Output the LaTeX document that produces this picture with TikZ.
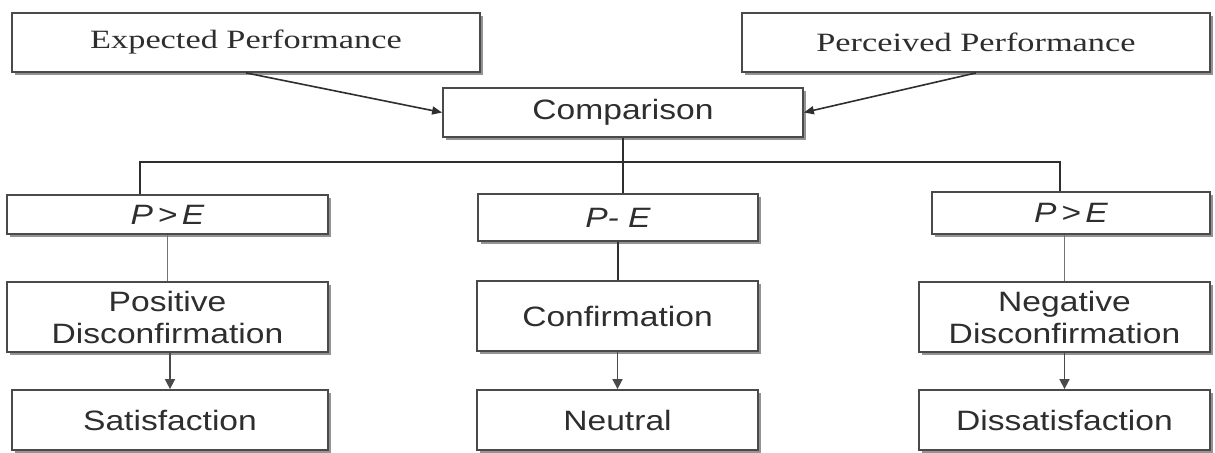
\documentclass[tikz,border=0pt]{standalone}
\usepackage{fontspec}
\usepackage{tikz}
\usetikzlibrary{shadows,arrows.meta}
\newfontfamily\boxsans[FakeStretch=1.2]{Liberation Sans}
\newfontfamily\boxserif[FakeStretch=1.3]{Liberation Serif}
\definecolor{inkgray}{HTML}{2E2E2E}
\definecolor{linegray}{HTML}{4A4A4A}

\begin{document}
\begin{tikzpicture}[x=0.5pt,y=-0.5pt,
    box/.style={draw=linegray, line width=0.9pt, fill=white, text=inkgray,
      align=center, inner sep=1pt,
      drop shadow={shadow xshift=1.5pt, shadow yshift=-1.5pt, fill=black!60, opacity=0.7}},
    serifbox/.style={box, font=\boxserif\fontsize{13.2}{15}\selectfont},
    sansbox/.style={box, font=\boxsans\fontsize{14}{16}\selectfont},
    link/.style={draw=inkgray, line width=0.8pt},
    faint/.style={draw=black!55, line width=0.8pt},
    arr/.style={draw=linegray, line width=0.8pt, -{Triangle[length=5pt,width=5pt]}}]
    \useasboundingbox [fill=white] (0,0) rectangle (1215,452);

    \node [serifbox, minimum width=234pt, minimum height=29.5pt] (expected) at (246,42.5) {Expected Performance};
    \node [serifbox, minimum width=234pt, minimum height=29.5pt] (perceived) at (976,42.5) {Perceived Performance};
    \node [sansbox, minimum width=180pt, minimum height=24.5pt] (comparison) at (623,112.5) {Comparison};

    \node [sansbox, minimum width=160.5pt, minimum height=19.5pt] (gtleft) at (167.5,214.5) {\itshape P\,>\,E};
    \node [sansbox, minimum width=140pt, minimum height=23.5pt] (equal) at (618,217.5) {\itshape P- E};
    \node [sansbox, minimum width=139pt, minimum height=21pt] (gtright) at (1071,213) {\itshape P\,>\,E};

    \node [sansbox, minimum width=160.5pt, minimum height=35pt] (posdisc) at (167.5,317) {Positive\\Disconfirmation};
    \node [sansbox, minimum width=140.5pt, minimum height=35pt] (confirm) at (617.5,316) {Confirmation};
    \node [sansbox, minimum width=145.5pt, minimum height=35pt] (negdisc) at (1064.5,317) {Negative\\Disconfirmation};

    \node [sansbox, minimum width=158pt, minimum height=30pt] (satisf) at (170,420) {Satisfaction};
    \node [sansbox, minimum width=140.5pt, minimum height=30pt] (neutral) at (617.5,420) {Neutral};
    \node [sansbox, minimum width=145.5pt, minimum height=30pt] (dissatisf) at (1064.5,420) {Dissatisfaction};

    \coordinate (leftjoin) at (140,162);
    \coordinate (rightjoin) at (1060,162);

    \draw [link, -{Triangle[length=5pt,width=4pt]}] (expected.south) -- (comparison.west);
    \draw [link, -{Triangle[length=5pt,width=4pt]}] (perceived.south) -- (comparison.east);
    \draw [link] (comparison.south) -- (comparison.south |- equal.north);
    \draw [link] (leftjoin |- gtleft.north) -- (leftjoin) -- (rightjoin) -- (rightjoin |- gtright.north);

    \draw [faint] (gtleft.south) -- (gtleft.south |- posdisc.north);
    \draw [link] (equal.south) -- (equal.south |- confirm.north);
    \draw [faint] (negdisc.north |- gtright.south) -- (negdisc.north);

    \draw [arr] (satisf.north |- posdisc.south) -- (satisf.north);
    \draw [arr] (confirm.south) -- (neutral.north);
    \draw [arr] (negdisc.south) -- (dissatisf.north);
\end{tikzpicture}
\end{document}
